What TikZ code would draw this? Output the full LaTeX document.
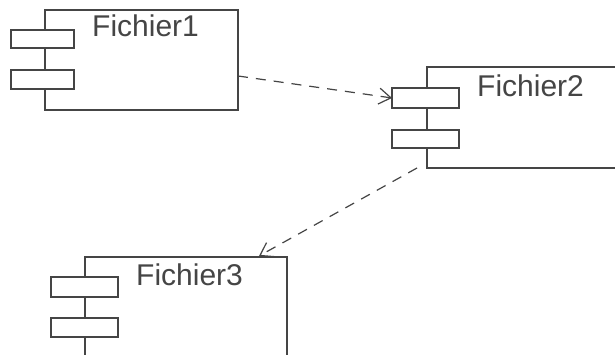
\documentclass[tikz,border=0pt]{standalone}
\usepackage{fontspec}
\setmainfont{Liberation Sans}
\usetikzlibrary{arrows.meta}
\definecolor{ink}{HTML}{454545}
\begin{document}
\begin{tikzpicture}[x=1pt,y=-1pt,
  compbox/.style={draw=ink,line width=1.4pt,fill=white,inner sep=0pt,outer sep=0pt},
  port/.style={draw=ink,line width=1.4pt,fill=white,inner sep=0pt,outer sep=0pt,minimum width=63pt,minimum height=18pt},
  label/.style={anchor=base west,inner sep=0pt,text=ink,font=\fontsize{30}{30}\selectfont},
  dep/.style={draw=ink,line width=1.2pt,dash pattern=on 10pt off 8pt,-{Straight Barb[length=12pt,width=16pt,line width=1.2pt]}}]
\useasboundingbox (0,0) rectangle (615,355);
\clip (0,0) rectangle (615,355);
\fill[white] (0,0) rectangle (615,355);
% component 1
\node[compbox,minimum width=193pt,minimum height=100pt] (box1) at (141.5,60) {};
\node[port] (p1a) at (42.5,39) {};
\node[port,minimum height=19pt] (p1b) at (42.5,79.5) {};
\node[label] (t1) at (92,37) {Fichier1};
% component 2
\node[compbox,minimum width=200pt,minimum height=101pt] (box2) at (527,117.5) {};
\node[port,minimum width=67pt,minimum height=20pt] (p2a) at (425.5,98) {};
\node[port,minimum width=67pt] (p2b) at (425.5,139) {};
\node[label] (t2) at (477,97) {Fichier2};
% component 3
\node[compbox,minimum width=202pt,minimum height=120pt] (box3) at (186,317) {};
\node[port,minimum width=67pt,minimum height=20pt] (p3a) at (84.5,287) {};
\node[port,minimum width=67pt,minimum height=19pt] (p3b) at (84.5,327.5) {};
\node[label] (t3) at (136,285) {Fichier3};
% connectors
\coordinate (s1) at (238,76);
\coordinate (s2) at (417,168);
\coordinate (e2) at (259,256);
\draw[dep] (s1) -- (p2a.west);
\draw[dep] (s2) -- (e2);
\end{tikzpicture}
\end{document}
